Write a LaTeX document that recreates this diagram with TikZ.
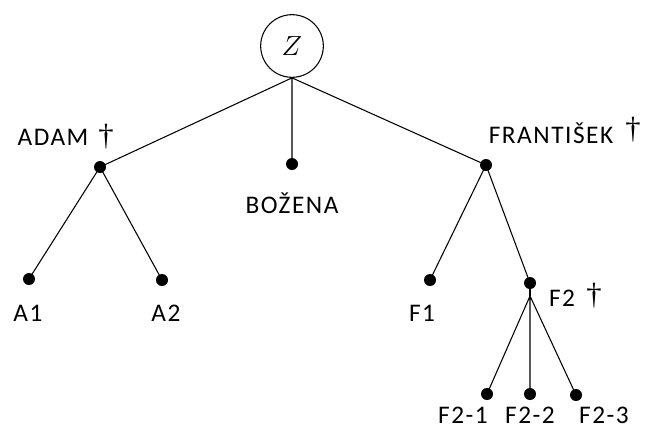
\documentclass[tikz,border=0pt]{standalone}
\usepackage{fontspec}
\setmainfont{Carlito}[LetterSpace=6]
\newfontfamily\crossfont{Liberation Serif}
\usetikzlibrary{positioning}
\begin{document}
\begin{tikzpicture}[x=0.75pt,y=-0.75pt,line join=round,line cap=round,line width=0.8pt,
	font=\fontsize{19}{19}\selectfont,
	dot/.style={circle,fill=black,inner sep=0pt,minimum size=9pt},
	lbl/.style={inner sep=0pt},
	dead/.style={inner sep=0pt,font=\crossfont\fontsize{23}{23}\selectfont}]
	%% page size in pixels
	\useasboundingbox (0,0) rectangle (645,429);
	%% root
	\node[draw,circle,minimum size=47pt,inner sep=0pt,font=\fontsize{20}{20}\selectfont] (z) at (292,46) {$Z$};
	%% first generation
	\node[dot] (adam) at (100,167) {};
	\node[dot] (bozena) at (292,164) {};
	\node[dot] (frantisek) at (486,165) {};
	\node[lbl] (ladam) at (53,137) {ADAM};
	\node[dead] (dadam) at (106,137) {†};
	\node[lbl] (lbozena) at (292,203) {BOŽENA};
	\node[lbl] (lfrantisek) at (551,133) {FRANTIŠEK};
	\node[dead] (dfrantisek) at (633,130) {†};
	%% grandchildren
	\node[dot] (a1) at (29,279) {};
	\node[dot] (a2) at (162,280) {};
	\node[dot] (f1) at (430,280) {};
	\node[dot] (f2) at (530,283) {};
	\node[lbl] (la1) at (28,313) {A1};
	\node[lbl] (la2) at (166,313) {A2};
	\node[lbl] (lf1) at (422,313) {F1};
	\node[lbl] (lf2) at (562,298) {F2};
	\node[dead] (df2) at (594,296) {†};
	%% children of F2
	\coordinate (fork) at (530,296);
	\node[dot] (f21) at (487,394) {};
	\node[dot] (f22) at (530,394) {};
	\node[dot] (f23) at (576,395) {};
	\node[lbl] (lf21) at (463,415) {F2-1};
	\node[lbl] (lf22) at (530,415) {F2-2};
	\node[lbl] (lf23) at (604,415) {F2-3};
	%% edges
	\draw (z.south)--(adam.center) (z.south)--(bozena.center) (z.south)--(frantisek.center);
	\draw (adam.center)--(a1.center) (adam.center)--(a2.center);
	\draw (frantisek.center)--(f1.center) (frantisek.center)--(f2.center);
	\draw (f2.center)--(fork);
	\draw (fork)--(f21.center) (fork)--(f22.center) (fork)--(f23.center);
\end{tikzpicture}
\end{document}
